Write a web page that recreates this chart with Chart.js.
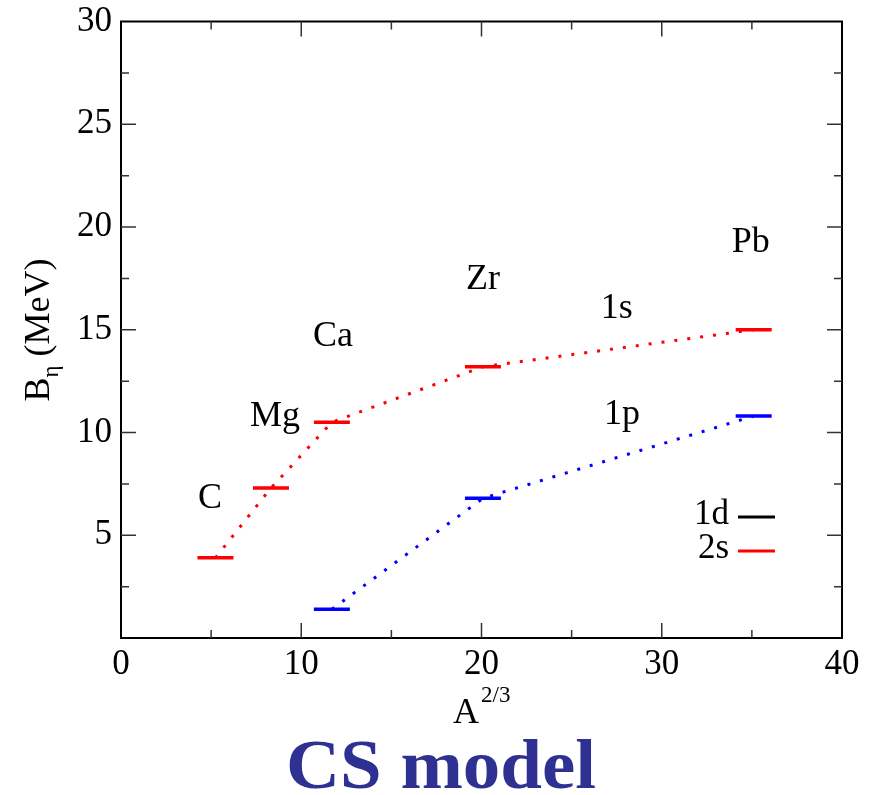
<!DOCTYPE html>
<html>
<head>
<meta charset="utf-8">
<script src="https://cdn.jsdelivr.net/npm/chart.js@4/dist/chart.umd.min.js"></script>
<style>
  html, body { margin: 0; padding: 0; background: #fff; }
  #wrap { width: 882px; height: 795px; }
</style>
</head>
<body>
<div id="wrap"><canvas id="c" width="882" height="795"></canvas></div>
<script>
// nuclei, A^(2/3)
const nuclei   = ['C', 'Mg', 'Ca', 'Zr', 'Pb'];
const aTwoThirds = [5.24, 8.32, 11.70, 20.08, 35.10];
// binding energies B_eta (MeV)
const level1s  = [3.9, 7.3, 10.5, 13.2, 15.0];
const level1p  = [null, null, 1.4, 6.8, 10.8];
const xTicks   = [0, 10, 20, 30, 40];
const yTicks   = [5, 10, 15, 20, 25, 30];

// text labels placed in data units
const labelText = ['C', 'Mg', 'Ca', 'Zr', 'Pb', '1s', '1p'];
const labelX    = [4.94, 8.54, 11.76, 20.08, 34.94, 27.5, 27.8];
const labelY    = [6.7, 10.68, 14.56, 17.33, 19.13, 15.92, 10.78];

const SERIF = "'Liberation Serif', 'Times New Roman', Times, serif";
const RED = '#ff0000', BLUE = '#0000ff';

const toPoints = vals => aTwoThirds.map((x, i) => ({ x, y: vals[i] }));

const noPad = s => { s.paddingTop = 0; s.paddingBottom = 0; s.paddingLeft = 0; s.paddingRight = 0; };

const frame = {
  id: 'frame',
  afterDraw(chart) {
    const { ctx, chartArea: a, scales: { x, y } } = chart;
    ctx.save();
    ctx.strokeStyle = '#000';
    ctx.lineWidth = 2;
    ctx.strokeRect(a.left, a.top, a.right - a.left, a.bottom - a.top);

    // inward ticks on all four sides
    ctx.lineWidth = 1.5;
    ctx.strokeStyle = '#333';
    ctx.beginPath();
    for (let v = 5; v < 40; v += 5) {
      const len = v % 10 === 0 ? 15 : 8;
      const px = x.getPixelForValue(v);
      ctx.moveTo(px, a.bottom); ctx.lineTo(px, a.bottom - len);
      ctx.moveTo(px, a.top);    ctx.lineTo(px, a.top + len);
    }
    for (let v = 2.5; v < 30; v += 2.5) {
      const len = v % 5 === 0 ? 15 : 8;
      const py = y.getPixelForValue(v);
      ctx.moveTo(a.left, py);  ctx.lineTo(a.left + len, py);
      ctx.moveTo(a.right, py); ctx.lineTo(a.right - len, py);
    }
    ctx.stroke();

    // annotations
    ctx.fillStyle = '#000';
    ctx.font = `36px ${SERIF}`;
    ctx.textAlign = 'center';
    ctx.textBaseline = 'middle';
    labelText.forEach((t, i) => {
      ctx.fillText(t, x.getPixelForValue(labelX[i]), y.getPixelForValue(labelY[i]) - 2);
    });

    // legend
    const legend = [['1d', '#000'], ['2s', RED]];
    ctx.font = `35px ${SERIF}`;
    legend.forEach(([t, col], i) => {
      const ly = 515 + i * 34;
      ctx.textAlign = 'right';
      ctx.fillStyle = '#000';
      ctx.fillText(t, 729, ly);
      ctx.strokeStyle = col;
      ctx.lineWidth = 3;
      ctx.beginPath(); ctx.moveTo(738, ly + 2); ctx.lineTo(775, ly + 2); ctx.stroke();
    });

    // y axis title: B_eta (MeV)
    ctx.save();
    ctx.translate(49, 330);
    ctx.rotate(-Math.PI / 2);
    ctx.textAlign = 'left';
    ctx.textBaseline = 'alphabetic';
    ctx.font = `36px ${SERIF}`;
    const bW = ctx.measureText('B').width;
    ctx.font = `23px ${SERIF}`;
    const eW = ctx.measureText('\u03b7').width;
    ctx.font = `36px ${SERIF}`;
    const rest = ' (MeV)';
    const total = bW + eW + ctx.measureText(rest).width;
    let cx = -total / 2;
    ctx.fillText('B', cx, 0); cx += bW;
    ctx.font = `23px ${SERIF}`;
    ctx.fillText('\u03b7', cx, 9); cx += eW;
    ctx.font = `36px ${SERIF}`;
    ctx.fillText(rest, cx, 0);
    ctx.restore();

    // x axis title: A^(2/3)
    ctx.textAlign = 'left';
    ctx.textBaseline = 'alphabetic';
    ctx.font = `36px ${SERIF}`;
    ctx.fillText('A', 453, 723);
    ctx.font = `23px ${SERIF}`;
    ctx.fillText('2/3', 481, 702);

    // caption
    ctx.save();
    ctx.translate(441, 788);
    ctx.scale(1.07, 1);
    ctx.textAlign = 'center';
    ctx.fillStyle = '#2e3192';
    ctx.font = `bold 70px ${SERIF}`;
    ctx.fillText('CS model', 0, 0);
    ctx.restore();
    ctx.restore();
  }
};

function draw() {
  new Chart(document.getElementById('c'), {
    type: 'line',
    data: {
      datasets: [
        {
          label: '1s',
          data: toPoints(level1s),
          borderColor: RED,
          borderWidth: 3,
          borderDash: [3, 10],
          pointStyle: 'line',
          pointRadius: 18,
          pointBorderWidth: 3.5,
          pointBorderColor: RED,
          tension: 0,
        },
        {
          label: '1p',
          data: toPoints(level1p),
          borderColor: BLUE,
          borderWidth: 3,
          borderDash: [3, 10],
          pointStyle: 'line',
          pointRadius: 18,
          pointBorderWidth: 3.5,
          pointBorderColor: BLUE,
          spanGaps: false,
          tension: 0,
        },
      ],
    },
    options: {
      responsive: false,
      animation: false,
      layout: { padding: { left: 0, right: 40, top: 21, bottom: 0 } },
      plugins: { legend: { display: false }, tooltip: { enabled: false } },
      scales: {
        x: {
          type: 'linear',
          min: 0, max: 40,
          afterBuildTicks: s => { s.ticks = xTicks.map(v => ({ value: v })); },
          afterFit: s => { s.height = 157; noPad(s); },
          grid: { display: false, drawTicks: false },
          border: { display: false },
          ticks: { color: '#000', padding: 6, font: { family: SERIF, size: 35 } },
        },
        y: {
          type: 'linear',
          min: 0, max: 30,
          afterBuildTicks: s => { s.ticks = yTicks.map(v => ({ value: v })); },
          afterFit: s => { s.width = 121; noPad(s); },
          grid: { display: false, drawTicks: false },
          border: { display: false },
          ticks: { color: '#000', padding: 9, font: { family: SERIF, size: 35 } },
        },
      },
    },
    plugins: [frame],
  });
}

Promise.all([
  document.fonts.load(`34px 'Liberation Serif'`),
  document.fonts.load(`bold 70px 'Liberation Serif'`),
]).then(draw, draw);
</script>
</body>
</html>
